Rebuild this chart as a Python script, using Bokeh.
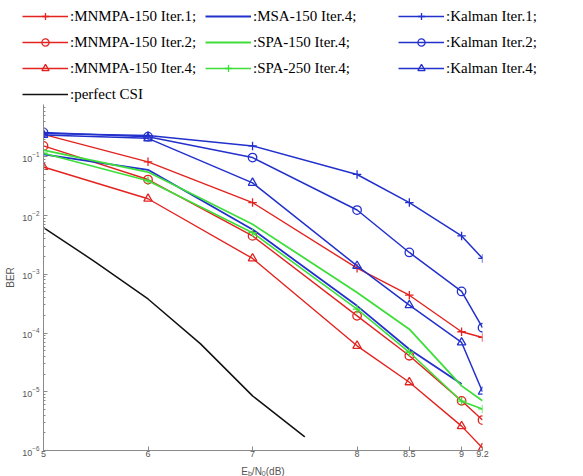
from bokeh.plotting import figure
from bokeh.models import FixedTicker, Legend, LegendItem, Label, Range1d
from bokeh.embed import file_html
from bokeh.resources import INLINE

# ---- data ----
snr = [5, 6, 7, 8, 8.5, 9, 9.2]
mnmpa_it1 = [0.24, 0.082, 0.0166, 1.27e-3, 4.4e-4, 1.05e-4, 8.4e-5]
mnmpa_it2 = [0.153, 0.041, 0.0045, 1.96e-4, 4.1e-5, 7.0e-6, 3.3e-6]
mnmpa_it4 = [0.067, 0.0193, 0.00186, 6.05e-5, 1.45e-5, 2.6e-6, 1.1e-6]
msa_snr = [5, 6, 7, 8, 8.5, 9]
msa_it4 = [0.11, 0.06, 0.0058, 2.9e-4, 5.3e-5, 1.35e-5]
spa150_it4 = [0.13, 0.055, 0.0071, 4.9e-4, 1.16e-4, 1.26e-5, 7.0e-6]
spa250_it4 = [0.115, 0.039, 0.0051, 2.55e-4, 4.7e-5, 6.9e-6, 5.1e-6]
kalman_it1 = [0.25, 0.23, 0.153, 0.050, 0.0166, 4.5e-3, 1.86e-3]
kalman_it2 = [0.26, 0.22, 0.097, 0.0124, 2.35e-3, 5.1e-4, 1.23e-4]
kalman_it4 = [0.235, 0.206, 0.036, 1.39e-3, 2.98e-4, 6.9e-5, 1.0e-5]
csi_snr = [5, 5.5, 6, 6.5, 7, 7.5]
perfect_csi = [6.25e-3, 1.6e-3, 3.8e-4, 6.6e-5, 8.5e-6, 1.7e-6]

x_ticks = [5, 6, 7, 8, 8.5, 9, 9.2]
x_tick_labels = ["5", "6", "7", "8", "8.5", "9", "9.2"]

SERIES = {
    "m1": (snr, mnmpa_it1), "m2": (snr, mnmpa_it2), "m4": (snr, mnmpa_it4),
    "msa": (msa_snr, msa_it4), "s150": (snr, spa150_it4), "s250": (snr, spa250_it4),
    "k1": (snr, kalman_it1), "k2": (snr, kalman_it2), "k4": (snr, kalman_it4),
    "csi": (csi_snr, perfect_csi),
}

RED = "#e3231f"
BLUE = "#2230cc"
GREEN = "#3ede3a"
BLACK = "#111111"

STYLE = {
    "m1": (RED, "cross", 1.4), "m2": (RED, "circle", 1.4), "m4": (RED, "triangle", 1.4),
    "msa": (BLUE, None, 1.8), "s150": (GREEN, None, 1.8), "s250": (GREEN, "cross", 1.6),
    "k1": (BLUE, "cross", 1.5), "k2": (BLUE, "circle", 1.5), "k4": (BLUE, "triangle", 1.5),
    "csi": (BLACK, None, 1.5),
}

W = 580
LEG_H = 104
BL, BR, BT, BB = 43, 98, 0, 11
FRAME_H = 346
MAIN_H = FRAME_H + BT + BB
XL_H = 15


def series(fig, key):
    x, y = SERIES[key]
    color, marker, lw = STYLE[key]
    rs = [fig.line(x, y, line_color=color, line_width=lw)]
    if marker is not None:
        rs.append(fig.scatter(x, y, marker=marker, size=8.5, line_color=color,
                              fill_color=None, line_width=1.3))
    return rs


def strip(h):
    f = figure(width=W, height=h, x_range=Range1d(0, 1), y_range=Range1d(0, 1),
               output_backend="svg", toolbar_location=None,
               x_axis_location=None, y_axis_location=None,
               min_border_left=0, min_border_right=0,
               min_border_top=0, min_border_bottom=0)
    f.outline_line_color = None
    f.grid.visible = False
    return f


# ---------------- main plot ----------------
p = figure(width=W, height=MAIN_H, y_axis_type="log",
           x_range=Range1d(5, 9.2), y_range=Range1d(1e-6, 10 ** -0.11),
           output_backend="svg", toolbar_location=None,
           min_border_left=BL, min_border_right=BR,
           min_border_top=BT, min_border_bottom=BB)
p.outline_line_color = None
p.grid.visible = False

for ax in (p.xaxis[0], p.yaxis[0]):
    ax.axis_line_color = "#8a8a8a"
    ax.major_tick_line_color = "#8a8a8a"
    ax.minor_tick_line_color = "#8a8a8a"
    ax.major_tick_in = 4
    ax.major_tick_out = 0
    ax.minor_tick_in = 2
    ax.minor_tick_out = 0
    ax.major_label_text_font = "Liberation Sans"
    ax.major_label_text_font_size = "9px"
    ax.major_label_text_color = "#555555"

p.xaxis.major_label_standoff = 0
p.yaxis.major_label_standoff = 4
p.xaxis.ticker = FixedTicker(ticks=x_ticks, minor_ticks=[])
p.xaxis.major_label_overrides = {t: l for t, l in zip(x_ticks, x_tick_labels)}
p.yaxis.axis_label = "BER"
p.yaxis.axis_label_text_font = "Liberation Sans"
p.yaxis.axis_label_text_font_style = "normal"
p.yaxis.axis_label_text_font_size = "10px"
p.yaxis.axis_label_text_color = "#555555"
p.yaxis.axis_label_standoff = 3

for key in SERIES:
    series(p, key)

# ---------------- legend strip (above the axes) ----------------
# proxies use the same data, which lies outside this strip's 0..1 ranges
lg = strip(LEG_H)
GH, SP, TOP_GAP = 18, 8, 7


def make_legend(items, vx):
    n = len(items)
    leg_h = n * GH + (n - 1) * SP
    leg = Legend(items=[LegendItem(label=l, renderers=series(lg, k)) for l, k in items],
                 location=(vx, LEG_H - TOP_GAP - leg_h), orientation="vertical",
                 label_text_font="Liberation Serif", label_text_font_size="15px",
                 label_text_color="black",
                 glyph_width=46, glyph_height=GH, label_height=GH, spacing=SP,
                 padding=0, margin=0, label_standoff=2,
                 border_line_color=None, background_fill_alpha=0)
    lg.add_layout(leg)


make_legend([(":MNMPA-150 Iter.1;", "m1"), (":MNMPA-150 Iter.2;", "m2"),
             (":MNMPA-150 Iter.4;", "m4"), (":perfect CSI", "csi")], 22)
make_legend([(":MSA-150 Iter.4;", "msa"), (":SPA-150 Iter.4;", "s150"),
             (":SPA-250 Iter.4;", "s250")], 205)
make_legend([(":Kalman Iter.1;", "k1"), (":Kalman Iter.2;", "k2"),
             (":Kalman Iter.4;", "k4")], 398)

# ---------------- x-axis label strip: E_b/N_0(dB) ----------------
xl = strip(XL_H)
parts = [("E", 10, 0, 6.7), ("b", 7, -2, 3.9), ("/N", 10, 0, 10.0),
         ("0", 7, -2, 3.9), ("(dB)", 10, 0, 19.0)]
total = sum(w for _, _, _, w in parts)
cx = BL + (W - BL - BR) / 2 - total / 2
for txt, fs, dy, w in parts:
    xl.add_layout(Label(x=cx, y=5 + dy, x_units="screen", y_units="screen",
                        text=txt, text_font="Liberation Sans",
                        text_font_size=f"{fs}px", text_color="#555555",
                        text_baseline="alphabetic", text_align="left"))
    cx += w

open("out.html", "w").write(file_html([lg, p, xl], INLINE))
